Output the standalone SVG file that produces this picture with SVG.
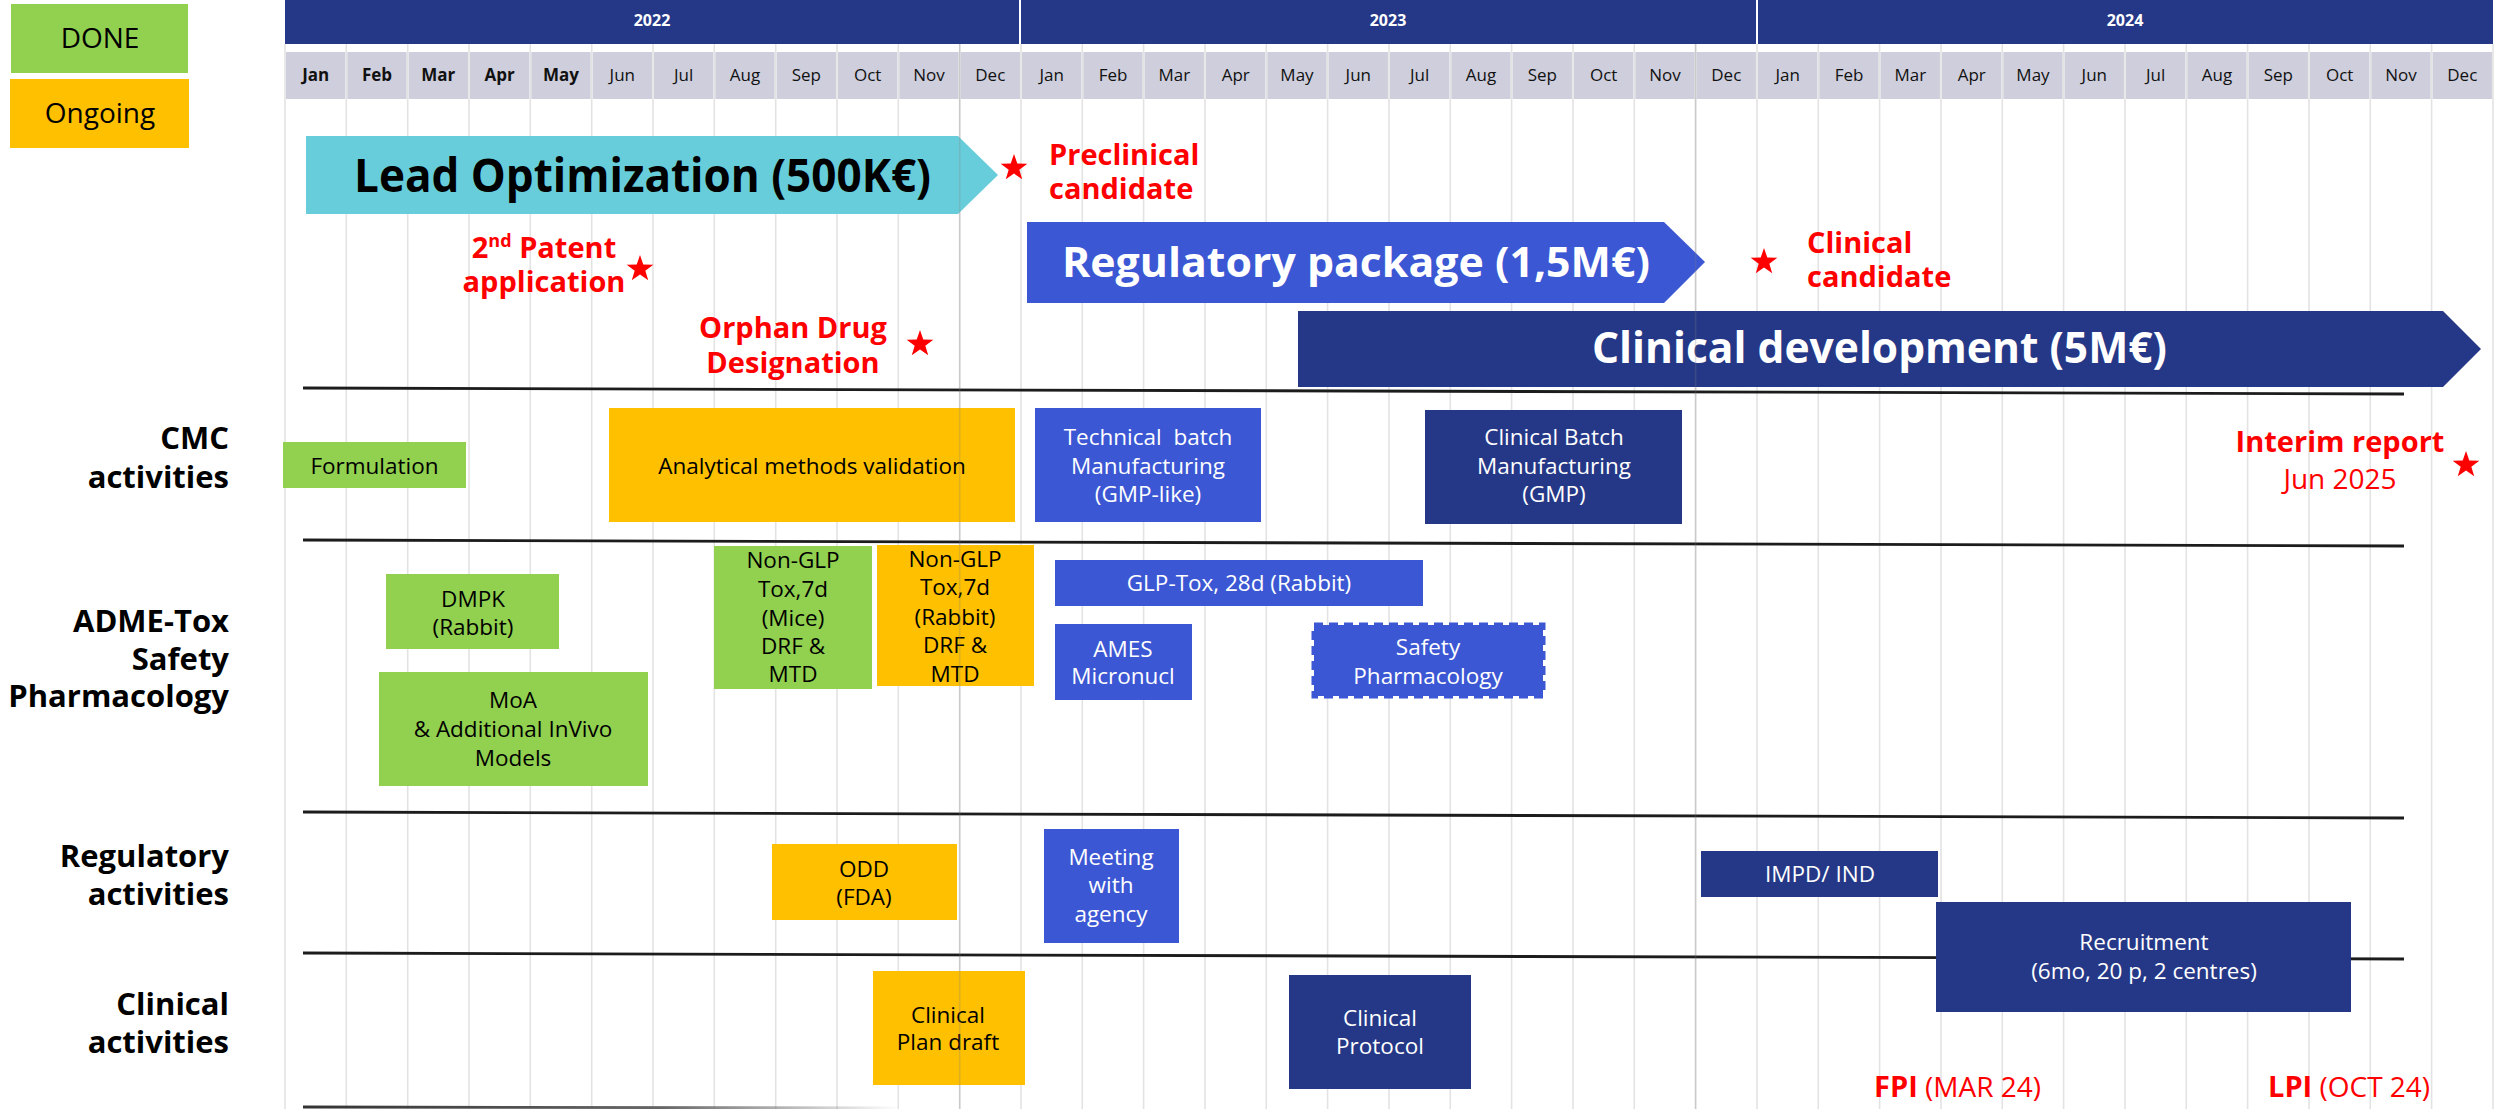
<svg xmlns="http://www.w3.org/2000/svg" xmlns:xlink="http://www.w3.org/1999/xlink" width="2498" height="1109" viewBox="0 0 2498 1109">
  <style>
    text { font-family: 'Open Sans', 'Liberation Sans', sans-serif; }
    .box { font-size: 22.5px; text-anchor: middle; }
    .dk { fill: #000; }
    .lt { fill: #fff; }
    .green { fill: #92D050; }
    .orange { fill: #FFC000; }
    .blue { fill: #3B57D4; }
    .navy { fill: #253887; }
    .month { font-size: 17px; text-anchor: middle; fill: #111; }
    .mb { font-weight: 700; }
    .year { font-size: 16px; font-weight: 700; fill: #fff; text-anchor: middle; }
    .row { font-size: 31px; font-weight: 700; text-anchor: end; fill: #000; }
    .red { fill: #FF0000; font-size: 29px; font-weight: 700; }
    .redr { fill: #FF0000; font-size: 28px; font-weight: 400; }
    .big { font-weight: 700; text-anchor: start; }
    .sep { stroke: #1c1c1c; stroke-width: 2.8; fill: none; }
  </style>
  <defs>
    <path id="star" d="M0,-14 L3.29,-4.53 L13.32,-4.33 L5.33,1.73 L8.23,11.33 L0,5.6 L-8.23,11.33 L-5.33,1.73 L-13.32,-4.33 L-3.29,-4.53 Z" fill="#FF0000"/>
    <linearGradient id="fade" gradientUnits="userSpaceOnUse" x1="303" y1="0" x2="900" y2="0">
      <stop offset="0" stop-color="#333"/>
      <stop offset="0.6" stop-color="#666"/>
      <stop offset="1" stop-color="#666" stop-opacity="0"/>
    </linearGradient>
  </defs>

  <rect width="2498" height="1109" fill="#fff"/>

  <!-- month gridlines -->
  <path id="grid" fill="none" stroke="#e3e3e3" stroke-width="1.6" d="M285 44V1109M346.3 44V1109M407.7 44V1109M469 44V1109M530.3 44V1109M591.7 44V1109M653 44V1109M714.3 44V1109M775.7 44V1109M837 44V1109M898.3 44V1109M959.7 44V1109M1021 44V1109M1082.3 44V1109M1143.6 44V1109M1205 44V1109M1266.3 44V1109M1327.6 44V1109M1389 44V1109M1450.3 44V1109M1511.6 44V1109M1573 44V1109M1634.3 44V1109M1695.6 44V1109M1757 44V1109M1818.3 44V1109M1879.6 44V1109M1941 44V1109M2002.3 44V1109M2063.6 44V1109M2125 44V1109M2186.3 44V1109M2247.6 44V1109M2309 44V1109M2370.3 44V1109M2431.6 44V1109M2493 44V1109"/>

  <!-- legend -->
  <g id="legend-done">
    <rect x="11" y="4" width="177" height="69" class="green"/>
    <text x="100" y="48" font-size="28" text-anchor="middle" class="dk">DONE</text>
  </g>
  <g id="legend-ongoing">
    <rect x="10" y="79" width="179" height="69" class="orange"/>
    <text x="100" y="123" font-size="28" text-anchor="middle" class="dk">Ongoing</text>
  </g>

  <!-- year header -->
  <g id="years">
    <rect x="285" y="0" width="734" height="44" class="navy"/>
    <rect x="1021" y="0" width="735" height="44" class="navy"/>
    <rect x="1758" y="0" width="735" height="44" class="navy"/>
    <text x="652" y="26" class="year">2022</text>
    <text x="1388" y="26" class="year">2023</text>
    <text x="2125" y="26" class="year">2024</text>
  </g>

  <!-- month header -->
  <g id="months" fill="#CECEDC">
    <rect x="286" y="52" width="59.3" height="47"/><rect x="347.3" y="52" width="59.3" height="47"/><rect x="408.7" y="52" width="59.3" height="47"/><rect x="470" y="52" width="59.3" height="47"/><rect x="531.3" y="52" width="59.3" height="47"/><rect x="592.7" y="52" width="59.3" height="47"/><rect x="654" y="52" width="59.3" height="47"/><rect x="715.3" y="52" width="59.3" height="47"/><rect x="776.7" y="52" width="59.3" height="47"/><rect x="838" y="52" width="59.3" height="47"/><rect x="899.3" y="52" width="59.3" height="47"/><rect x="960.7" y="52" width="59.3" height="47"/>
    <rect x="1022" y="52" width="59.3" height="47"/><rect x="1083.3" y="52" width="59.3" height="47"/><rect x="1144.6" y="52" width="59.3" height="47"/><rect x="1206" y="52" width="59.3" height="47"/><rect x="1267.3" y="52" width="59.3" height="47"/><rect x="1328.6" y="52" width="59.3" height="47"/><rect x="1390" y="52" width="59.3" height="47"/><rect x="1451.3" y="52" width="59.3" height="47"/><rect x="1512.6" y="52" width="59.3" height="47"/><rect x="1574" y="52" width="59.3" height="47"/><rect x="1635.3" y="52" width="59.3" height="47"/><rect x="1696.6" y="52" width="59.3" height="47"/>
    <rect x="1758" y="52" width="59.3" height="47"/><rect x="1819.3" y="52" width="59.3" height="47"/><rect x="1880.6" y="52" width="59.3" height="47"/><rect x="1942" y="52" width="59.3" height="47"/><rect x="2003.3" y="52" width="59.3" height="47"/><rect x="2064.6" y="52" width="59.3" height="47"/><rect x="2126" y="52" width="59.3" height="47"/><rect x="2187.3" y="52" width="59.3" height="47"/><rect x="2248.6" y="52" width="59.3" height="47"/><rect x="2310" y="52" width="59.3" height="47"/><rect x="2371.3" y="52" width="59.3" height="47"/><rect x="2432.6" y="52" width="59.3" height="47"/>
  </g>
  <g id="month-labels">
    <text x="315.7" y="81" class="month mb">Jan</text><text x="377" y="81" class="month mb">Feb</text><text x="438.3" y="81" class="month mb">Mar</text><text x="499.7" y="81" class="month mb">Apr</text><text x="561" y="81" class="month mb">May</text><text x="622.3" y="81" class="month">Jun</text><text x="683.7" y="81" class="month">Jul</text><text x="745" y="81" class="month">Aug</text><text x="806.3" y="81" class="month">Sep</text><text x="867.7" y="81" class="month">Oct</text><text x="929" y="81" class="month">Nov</text><text x="990.3" y="81" class="month">Dec</text>
    <text x="1051.7" y="81" class="month">Jan</text><text x="1113" y="81" class="month">Feb</text><text x="1174.3" y="81" class="month">Mar</text><text x="1235.7" y="81" class="month">Apr</text><text x="1297" y="81" class="month">May</text><text x="1358.3" y="81" class="month">Jun</text><text x="1419.7" y="81" class="month">Jul</text><text x="1481" y="81" class="month">Aug</text><text x="1542.3" y="81" class="month">Sep</text><text x="1603.7" y="81" class="month">Oct</text><text x="1665" y="81" class="month">Nov</text><text x="1726.3" y="81" class="month">Dec</text>
    <text x="1787.7" y="81" class="month">Jan</text><text x="1849" y="81" class="month">Feb</text><text x="1910.3" y="81" class="month">Mar</text><text x="1971.7" y="81" class="month">Apr</text><text x="2033" y="81" class="month">May</text><text x="2094.3" y="81" class="month">Jun</text><text x="2155.7" y="81" class="month">Jul</text><text x="2217" y="81" class="month">Aug</text><text x="2278.3" y="81" class="month">Sep</text><text x="2339.7" y="81" class="month">Oct</text><text x="2401" y="81" class="month">Nov</text><text x="2462.3" y="81" class="month">Dec</text>
  </g>

  <!-- row labels -->
  <g id="row-cmc"><text class="row"><tspan x="229" y="449">CMC</tspan><tspan x="229" y="488">activities</tspan></text></g>
  <g id="row-adme"><text class="row"><tspan x="229" y="632">ADME-Tox</tspan><tspan x="229" y="670">Safety</tspan><tspan x="229" y="707">Pharmacology</tspan></text></g>
  <g id="row-regulatory"><text class="row"><tspan x="229" y="867">Regulatory</tspan><tspan x="229" y="905">activities</tspan></text></g>
  <g id="row-clinical"><text class="row"><tspan x="229" y="1015">Clinical</tspan><tspan x="229" y="1053">activities</tspan></text></g>

  <!-- swimlane separators -->
  <g id="separators">
    <line x1="303" y1="388" x2="2404" y2="394" class="sep"/>
    <line x1="303" y1="540" x2="2404" y2="546" class="sep"/>
    <line x1="303" y1="812" x2="2404" y2="818" class="sep"/>
    <line x1="303" y1="953" x2="2404" y2="959" class="sep"/>
    <line x1="303" y1="1107" x2="900" y2="1108" stroke="url(#fade)" stroke-width="2.8"/>
  </g>

  <!-- phase arrows -->
  <g id="phase-lead-optimization">
    <polygon points="306,136 958,136 998,175 958,214 306,214" fill="#67CDDB"/>
    <text x="354" y="192" class="big dk" font-size="46" textLength="577" lengthAdjust="spacingAndGlyphs">Lead Optimization (500K€)</text>
  </g>
  <g id="phase-regulatory-package">
    <polygon points="1027,222 1664,222 1705,262 1664,303 1027,303" class="blue"/>
    <text x="1062" y="277" class="big lt" font-size="42" textLength="588" lengthAdjust="spacingAndGlyphs">Regulatory package (1,5M€)</text>
  </g>
  <g id="phase-clinical-development">
    <polygon points="1298,311 2443,311 2481,349 2443,387 1298,387" class="navy"/>
    <text x="1592" y="363" class="big lt" font-size="43" textLength="575" lengthAdjust="spacingAndGlyphs">Clinical development (5M€)</text>
  </g>

  <!-- milestones -->
  <g id="ms-preclinical">
    <use xlink:href="#star" x="1014" y="168"/>
    <text class="red"><tspan x="1049" y="165">Preclinical</tspan><tspan x="1049" y="199">candidate</tspan></text>
  </g>
  <g id="ms-patent">
    <use xlink:href="#star" x="640" y="269"/>
    <text x="544" y="258" class="red" text-anchor="middle">2<tspan font-size="18" dy="-11">nd</tspan><tspan dy="11"> Patent</tspan><tspan x="544" dy="34">application</tspan></text>
  </g>
  <g id="ms-orphan">
    <use xlink:href="#star" x="920" y="344"/>
    <text class="red" text-anchor="middle"><tspan x="793" y="338">Orphan Drug</tspan><tspan x="793" y="373">Designation</tspan></text>
  </g>
  <g id="ms-clinical-candidate">
    <use xlink:href="#star" x="1764" y="262"/>
    <text class="red"><tspan x="1807" y="253">Clinical</tspan><tspan x="1807" y="287">candidate</tspan></text>
  </g>
  <g id="ms-interim">
    <use xlink:href="#star" x="2466" y="465"/>
    <text class="red" text-anchor="middle"><tspan x="2340" y="452">Interim report</tspan><tspan x="2340" y="489" class="redr">Jun 2025</tspan></text>
  </g>
  <g id="ms-fpi">
    <text x="1874" y="1097" class="red" font-size="27">FPI<tspan class="redr" font-size="27"> (MAR 24)</tspan></text>
  </g>
  <g id="ms-lpi">
    <text x="2268" y="1097" class="red" font-size="27">LPI<tspan class="redr" font-size="27"> (OCT 24)</tspan></text>
  </g>

  <!-- CMC activities -->
  <g id="formulation">
    <rect x="283" y="442" width="183" height="46" class="green"/>
    <text x="374.5" y="474" class="box dk">Formulation</text>
  </g>
  <g id="analytical-methods">
    <rect x="609" y="408" width="406" height="114" class="orange"/>
    <text x="812" y="474" class="box dk">Analytical methods validation</text>
  </g>
  <g id="technical-batch">
    <rect x="1035" y="408" width="226" height="114" class="blue"/>
    <text class="box lt"><tspan x="1148" y="445" style="white-space:pre">Technical  batch</tspan><tspan x="1148" y="474">Manufacturing</tspan><tspan x="1148" y="502">(GMP-like)</tspan></text>
  </g>
  <g id="clinical-batch">
    <rect x="1425" y="410" width="257" height="114" class="navy"/>
    <text class="box lt"><tspan x="1554" y="445">Clinical Batch</tspan><tspan x="1554" y="474">Manufacturing</tspan><tspan x="1554" y="502">(GMP)</tspan></text>
  </g>

  <!-- ADME-Tox / safety pharmacology -->
  <g id="dmpk">
    <rect x="386" y="574" width="173" height="75" class="green"/>
    <text class="box dk"><tspan x="473" y="607">DMPK</tspan><tspan x="473" y="635">(Rabbit)</tspan></text>
  </g>
  <g id="moa">
    <rect x="379" y="672" width="269" height="114" class="green"/>
    <text class="box dk"><tspan x="513" y="708">MoA</tspan><tspan x="513" y="737">&amp; Additional InVivo</tspan><tspan x="513" y="766">Models</tspan></text>
  </g>
  <g id="nonglp-mice">
    <rect x="714" y="546" width="158" height="143" class="green"/>
    <text class="box dk"><tspan x="793" y="568">Non-GLP</tspan><tspan x="793" y="597">Tox,7d</tspan><tspan x="793" y="626">(Mice)</tspan><tspan x="793" y="654">DRF &amp;</tspan><tspan x="793" y="682">MTD</tspan></text>
  </g>
  <g id="nonglp-rabbit">
    <rect x="877" y="545" width="157" height="141" class="orange"/>
    <text class="box dk"><tspan x="955" y="567">Non-GLP</tspan><tspan x="955" y="595">Tox,7d</tspan><tspan x="955" y="625">(Rabbit)</tspan><tspan x="955" y="653">DRF &amp;</tspan><tspan x="955" y="682">MTD</tspan></text>
  </g>
  <g id="glp-tox">
    <rect x="1055" y="560" width="368" height="46" class="blue"/>
    <text x="1239" y="591" class="box lt">GLP-Tox, 28d (Rabbit)</text>
  </g>
  <g id="ames">
    <rect x="1055" y="624" width="137" height="76" class="blue"/>
    <text class="box lt"><tspan x="1123" y="657">AMES</tspan><tspan x="1123" y="684">Micronucl</tspan></text>
  </g>
  <g id="safety-pharmacology">
    <rect x="1314" y="625" width="229" height="71" class="blue" stroke="#3B57D4" stroke-width="5" stroke-dasharray="9 6"/>
    <text class="box lt"><tspan x="1428" y="655">Safety</tspan><tspan x="1428" y="684">Pharmacology</tspan></text>
  </g>

  <!-- regulatory activities -->
  <g id="odd">
    <rect x="772" y="844" width="185" height="76" class="orange"/>
    <text class="box dk"><tspan x="864" y="877">ODD</tspan><tspan x="864" y="905">(FDA)</tspan></text>
  </g>
  <g id="meeting-agency">
    <rect x="1044" y="829" width="135" height="114" class="blue"/>
    <text class="box lt"><tspan x="1111" y="865">Meeting</tspan><tspan x="1111" y="893">with</tspan><tspan x="1111" y="922">agency</tspan></text>
  </g>
  <g id="impd-ind">
    <rect x="1701" y="851" width="237" height="46" class="navy"/>
    <text x="1820" y="882" class="box lt">IMPD/ IND</text>
  </g>

  <!-- clinical activities -->
  <g id="recruitment">
    <rect x="1936" y="902" width="415" height="110" class="navy"/>
    <text class="box lt"><tspan x="2144" y="950">Recruitment</tspan><tspan x="2144" y="979">(6mo, 20 p, 2 centres)</tspan></text>
  </g>
  <g id="clinical-plan">
    <rect x="873" y="971" width="152" height="114" class="orange"/>
    <text class="box dk"><tspan x="948" y="1023">Clinical</tspan><tspan x="948" y="1050">Plan draft</tspan></text>
  </g>
  <g id="clinical-protocol">
    <rect x="1289" y="975" width="182" height="114" class="navy"/>
    <text class="box lt"><tspan x="1380" y="1026">Clinical</tspan><tspan x="1380" y="1054">Protocol</tspan></text>
  </g>

  <!-- year-end guide lines drawn over the chart -->
  <path id="year-end-guides" d="M959.7 44V1109M1695.6 44V1109" stroke="#808080" stroke-opacity="0.25" stroke-width="1.6" fill="none"/>
</svg>
